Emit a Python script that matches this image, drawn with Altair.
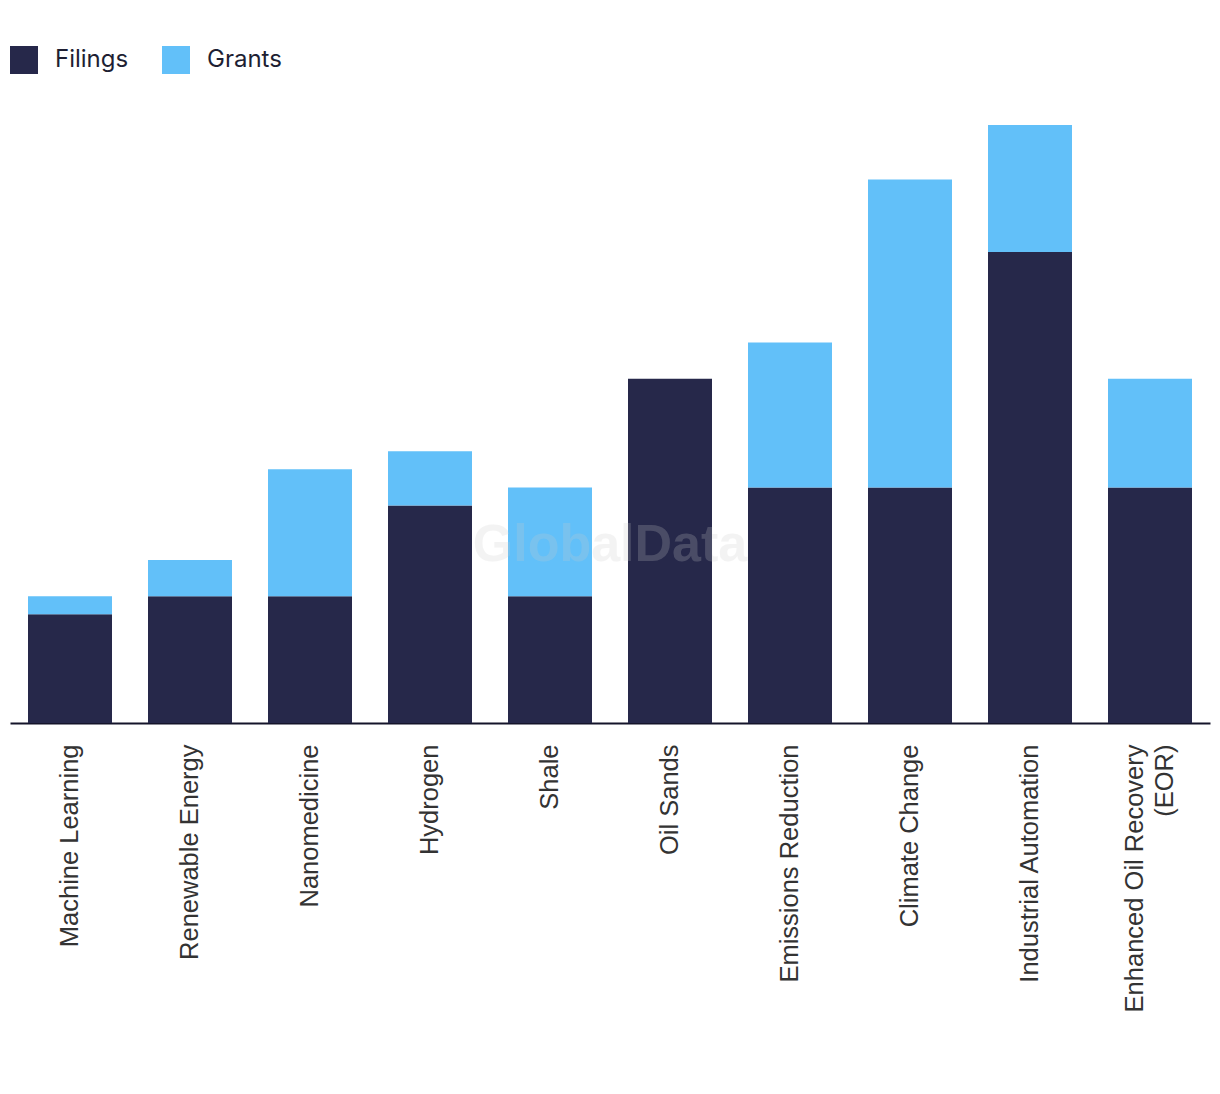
import altair as alt
import pandas as pd

categories = ["Machine Learning", "Renewable Energy", "Nanomedicine", "Hydrogen", "Shale",
              "Oil Sands", "Emissions Reduction", "Climate Change", "Industrial Automation",
              "Enhanced Oil Recovery (EOR)"]
filings = [6, 7, 7, 12, 7, 19, 13, 13, 26, 13]
grants = [1, 2, 7, 3, 6, 0, 8, 17, 7, 6]
series = ["Filings", "Grants"]
colors = ["#26284a", "#62c0f9"]

rows = []
for c, f, g in zip(categories, filings, grants):
    rows.append({"category": c, "series": "Filings", "value": f, "order": 0})
    rows.append({"category": c, "series": "Grants", "value": g, "order": 1})
df = pd.DataFrame(rows)

eor = "Enhanced Oil Recovery (EOR)"
label_expr = ("datum.label == '" + eor + "' ? "
              "['Enhanced Oil Recovery', '(EOR)'] : datum.label")

bars = alt.Chart(df).mark_bar().encode(
    x=alt.X("category:N", sort=categories, title=None,
            scale=alt.Scale(paddingInner=0.3, paddingOuter=0.15),
            axis=alt.Axis(labelAngle=-90, labelAlign="right", labelBaseline="middle",
                          labelFont="Liberation Sans", labelFontSize=25.5, labelColor="#333333",
                          labelPadding=21, labelLineHeight=30, labelExpr=label_expr,
                          labelOffset={"condition": {"test": "datum.value == '" + eor + "'",
                                                     "value": -15},
                                       "value": 0},
                          ticks=False, tickSize=0, domainColor="#14142a", domainWidth=2,
                          grid=False, labelLimit=400)),
    y=alt.Y("value:Q", stack="zero", axis=None,
            scale=alt.Scale(domain=[0, 34], nice=False)),
    color=alt.Color("series:N", scale=alt.Scale(domain=series, range=colors),
                    legend=alt.Legend(orient="none", legendX=0, legendY=-61,
                                      direction="horizontal", title=None,
                                      symbolType="square", symbolSize=784,
                                      symbolStrokeWidth=0, symbolOpacity=1,
                                      labelFont="Inter", labelFontSize=24,
                                      labelColor="#1e1f33", labelOffset=17,
                                      columnPadding=33, padding=0)),
    order=alt.Order("order:Q"),
)

watermark = alt.Chart(pd.DataFrame({"t": ["GlobalData"]})).mark_text(
    font="Liberation Sans", fontWeight="bold", fontSize=52, color="#cccccc",
    opacity=0.22, align="center", baseline="middle"
).encode(text="t:N", x=alt.value(600), y=alt.value(438))

chart = alt.layer(bars, watermark).properties(
    width=1200, height=616,
    padding={"left": 2, "right": 2, "top": 99, "bottom": 340},
    autosize=alt.AutoSizeParams(type="none"),
).configure_view(stroke=None)

chart.save("out.html", embed_options={"renderer": "svg", "actions": False})
